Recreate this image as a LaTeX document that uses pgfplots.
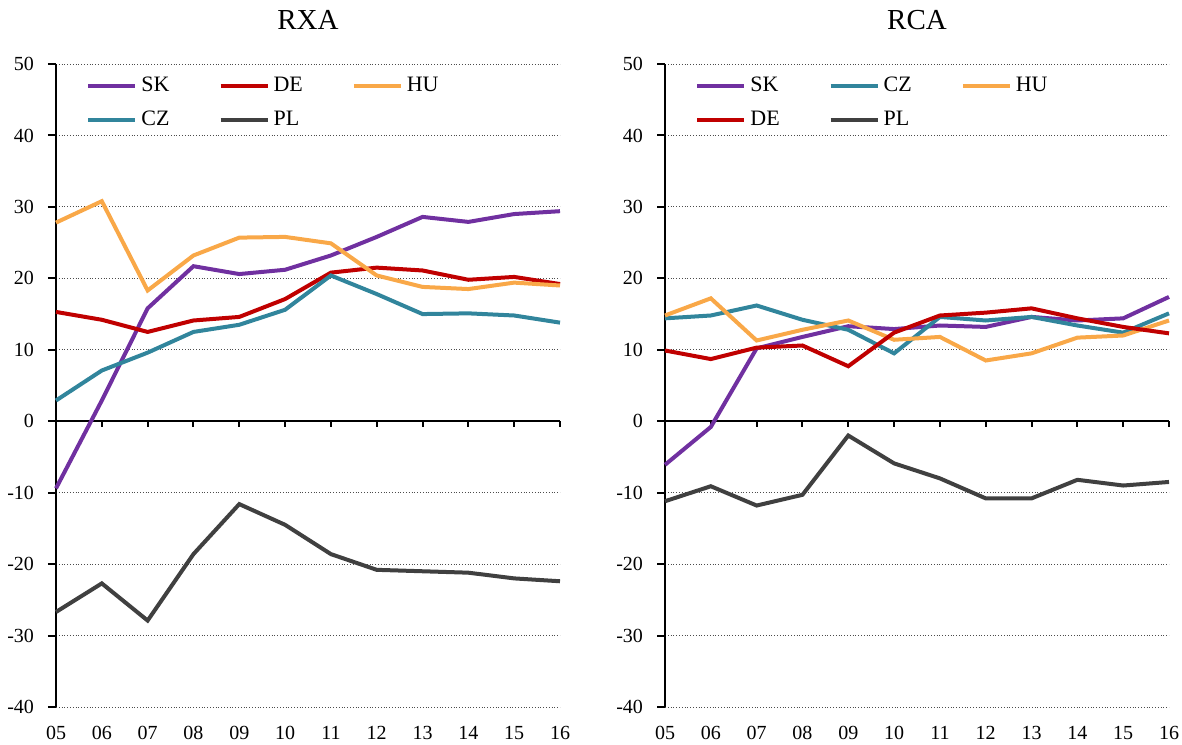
\documentclass[border=0pt]{standalone}
\usepackage{pgfplots}
\pgfplotsset{compat=1.18}
\usepackage{fontspec}
\setmainfont{Liberation Serif}
\definecolor{cSK}{HTML}{7030A0}
\definecolor{cDE}{HTML}{C00000}
\definecolor{cHU}{HTML}{F9A848}
\definecolor{cCZ}{HTML}{31859C}
\definecolor{cPL}{HTML}{404040}
\pgfplotsset{
  panel/.style={
    scale only axis, width=252pt, height=321.5pt,
    anchor=south west,
    xmin=0, xmax=11, ymin=-40, ymax=50,
    axis lines=left, axis line style={-, line width=1pt},
    x axis line style={draw=none},
    xtick={0,...,11},
    xticklabels={05,06,07,08,09,10,11,12,13,14,15,16},
    xtick style={draw=none},
    ytick={-40,-30,...,50},
    yticklabels={-40,-30,-20,-10,0,10,20,30,40,50},
    ytick style={black, line width=1pt},
    tick align=outside, major tick length=4pt,
    ymajorgrids, major grid style={densely dotted, black!70, line width=0.5pt},
    tick label style={font=\fontsize{10}{12}\selectfont},
    yticklabel style={xshift=-3.5pt},
    xticklabel style={yshift=-2pt},
    title style={font=\fontsize{14.5}{16}\selectfont, at={(0.5,1)}, anchor=center, yshift=16pt},
    clip=false,
    every axis plot/.append style={line width=2pt, mark=none},
    legend image code/.code={\draw[#1] (0pt,0pt) -- (23.5pt,0pt);},
    legend columns=3,
    legend cell align=left,
    legend style={draw=none, fill=none,
      font=\fontsize{11}{13}\selectfont, row sep=4pt,
      /tikz/every even column/.append style={column sep=22.5pt},
      /tikz/every odd column/.append style={column sep=0pt}},
  }
}
\begin{document}
\begin{tikzpicture}[x=1pt,y=1pt]
\path[use as bounding box] (0,0) rectangle (591,372);
\begin{axis}[panel, at={(28pt,18.5pt)}, title={RXA},
  legend style={at={(rel axis cs:0,1)}, anchor=north west, xshift=12pt, yshift=-2.5pt}]
\draw[black, line width=1.1pt] (axis cs:0,0) -- (axis cs:11,0);
\foreach \i in {0,...,11} {\edef\tmp{\noexpand\draw[black, line width=1pt] (axis cs:\i,0) -- ([yshift=-3pt]axis cs:\i,0);}\tmp}
\addplot[cSK] coordinates {(0,-9.4)(1,2.9)(2,15.8)(3,21.7)(4,20.6)(5,21.2)(6,23.2)(7,25.8)(8,28.6)(9,27.9)(10,29.0)(11,29.4)};
\addlegendentry{SK}
\addplot[cDE] coordinates {(0,15.3)(1,14.2)(2,12.5)(3,14.1)(4,14.6)(5,17.1)(6,20.8)(7,21.5)(8,21.1)(9,19.8)(10,20.2)(11,19.2)};
\addlegendentry{DE}
\addplot[cHU] coordinates {(0,27.8)(1,30.8)(2,18.3)(3,23.2)(4,25.7)(5,25.8)(6,24.9)(7,20.4)(8,18.8)(9,18.5)(10,19.4)(11,19.0)};
\addlegendentry{HU}
\addplot[cCZ] coordinates {(0,2.9)(1,7.1)(2,9.6)(3,12.5)(4,13.5)(5,15.6)(6,20.4)(7,17.8)(8,15.0)(9,15.1)(10,14.8)(11,13.8)};
\addlegendentry{CZ}
\addplot[cPL] coordinates {(0,-26.7)(1,-22.7)(2,-27.9)(3,-18.6)(4,-11.6)(5,-14.5)(6,-18.6)(7,-20.8)(8,-21.0)(9,-21.2)(10,-22.0)(11,-22.4)};
\addlegendentry{PL}
\end{axis}
\begin{axis}[panel, at={(332.5pt,18.5pt)}, title={RCA},
  legend style={at={(rel axis cs:0,1)}, anchor=north west, xshift=12pt, yshift=-2.5pt}]
\draw[black, line width=1.1pt] (axis cs:0,0) -- (axis cs:11,0);
\foreach \i in {0,...,11} {\edef\tmp{\noexpand\draw[black, line width=1pt] (axis cs:\i,0) -- ([yshift=-3pt]axis cs:\i,0);}\tmp}
\addplot[cSK] coordinates {(0,-6.1)(1,-0.8)(2,10.2)(3,11.8)(4,13.3)(5,12.9)(6,13.4)(7,13.2)(8,14.6)(9,14.1)(10,14.4)(11,17.4)};
\addlegendentry{SK}
\addplot[cCZ] coordinates {(0,14.4)(1,14.8)(2,16.2)(3,14.2)(4,12.8)(5,9.5)(6,14.6)(7,14.1)(8,14.6)(9,13.4)(10,12.4)(11,15.1)};
\addlegendentry{CZ}
\addplot[cHU] coordinates {(0,14.8)(1,17.2)(2,11.3)(3,12.8)(4,14.1)(5,11.4)(6,11.8)(7,8.5)(8,9.5)(9,11.7)(10,12.0)(11,14.1)};
\addlegendentry{HU}
\addplot[cDE] coordinates {(0,9.9)(1,8.7)(2,10.3)(3,10.6)(4,7.7)(5,12.4)(6,14.8)(7,15.2)(8,15.8)(9,14.4)(10,13.2)(11,12.3)};
\addlegendentry{DE}
\addplot[cPL] coordinates {(0,-11.2)(1,-9.1)(2,-11.8)(3,-10.3)(4,-2.0)(5,-5.9)(6,-8.0)(7,-10.8)(8,-10.8)(9,-8.2)(10,-9.0)(11,-8.5)};
\addlegendentry{PL}
\end{axis}
\end{tikzpicture}
\end{document}
